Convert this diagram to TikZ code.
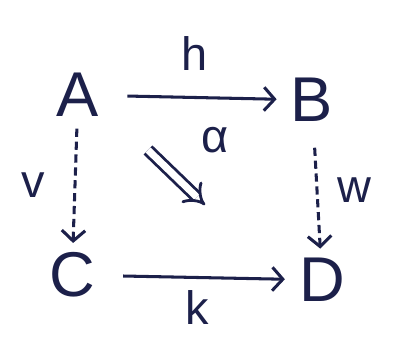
\documentclass[tikz,border=0pt]{standalone}
\usepackage{fontspec}
\setmainfont{Liberation Sans}
\usetikzlibrary{arrows.meta, positioning}
\definecolor{ink}{RGB}{28,32,74}
\tikzstyle{obj} = [text=ink, font=\fontsize{54}{60}\selectfont, inner sep=6pt]
\tikzstyle{lbl} = [text=ink, font=\fontsize{40}{46}\selectfont, inner sep=2pt]
\tikzstyle{arrow} = [draw=ink, line width=2.6pt, -{Straight Barb[length=9pt, width=20pt]}]
\tikzstyle{dashed_arrow} = [arrow, dash pattern=on 7pt off 4pt]
\tikzstyle{twocell} = [draw=ink, line width=2.4pt, double, double distance=6pt, -{Implies[length=10pt]}]

\begin{document}
\begin{tikzpicture}
    \useasboundingbox (0,0) rectangle (11.82,10.23);

    \node (a) [obj] at (2.34,7.38) {A};
    \node (b) [obj] at (9.36,7.23) {B};
    \node (c) [obj] at (2.16,1.98) {C};
    \node (d) [obj] at (9.66,1.83) {D};

    \draw [arrow, shorten <=18pt, shorten >=6pt] (a) -- node[lbl, above=20pt] {h} (b);
    \draw [arrow, shorten <=18pt, shorten >=6pt] (c) -- node[lbl, below=8pt] {k} (d);
    \draw [dashed_arrow, shorten <=4pt, shorten >=2pt] (a) -- node[lbl, left=22pt] {v} (c);
    \draw [dashed_arrow, shorten <=16pt, shorten >=2pt] (b) -- node[lbl, right=14pt] {w} (d);

    % 2-cell in the middle
    \coordinate (src) at (4.44,5.73);
    \coordinate (tgt) at (6.15,4.08);
    \draw [twocell] (src) -- (tgt);
    \node (alpha) [lbl] at (6.45,6.03) {α};

\end{tikzpicture}
\end{document}
